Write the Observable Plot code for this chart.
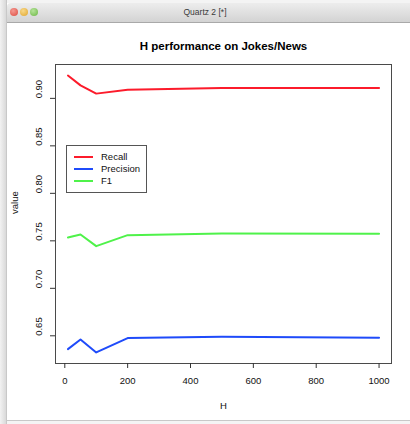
<!DOCTYPE html>
<html>
<head>
<meta charset="utf-8">
<script src="https://cdn.jsdelivr.net/npm/d3@7"></script>
<script src="https://cdn.jsdelivr.net/npm/@observablehq/plot@0.6"></script>
<style>
  html, body { margin: 0; padding: 0; background: #ffffff; }
  #page { position: relative; width: 410px; height: 424px; overflow: hidden; background: #f4f4f4; }
  #shadow { position: absolute; left: 0; top: 0; width: 7px; height: 424px;
    background: linear-gradient(to right, #f2f2f2, #d9d9d9 85%, #b9b9b9); }
  #win { position: absolute; left: 7px; top: 3px; width: 410px; height: 417px; background: #ffffff;
    border-bottom: 1px solid #c8c8c8; }
  #titlebar { position: absolute; left: 7px; top: 3px; width: 410px; height: 19px;
    background: linear-gradient(#ededed, #d3d3d3); border-bottom: 1px solid #a9a9a9;
    border-top-left-radius: 4px; font-family: "Liberation Sans", Arial, sans-serif;
    font-size: 8.5px; color: #3a3a3a; z-index: 3; }
  #titlebar .t { position: absolute; left: 0; width: 396px; top: 4px; text-align: center; }
  .dot { position: absolute; top: 5px; width: 8px; height: 8px; border-radius: 50%; }
  #chart { position: absolute; left: 0; top: 0; z-index: 2; }
  #legend { position: absolute; left: 66px; top: 145px; width: 79px; height: 46px;
    border: 1px solid #555; background: #fff; z-index: 4;
    font-family: "Liberation Sans", Arial, sans-serif; font-size: 9.5px; color: #111; }
  #legend .row { position: absolute; left: 0; height: 12px; }
  #legend .sw { position: absolute; left: 7px; top: 5px; width: 19px; height: 2px; }
  #legend .lb { position: absolute; left: 34px; top: 0; line-height: 12px; white-space: nowrap; }
</style>
</head>
<body>
<div id="page">
  <div id="shadow"></div>
  <div id="win"></div>
  <div id="titlebar">
    <div class="dot" style="left:3px;background:radial-gradient(circle at 40% 35%,#f59a93,#dd4b3f);"></div>
    <div class="dot" style="left:13px;background:radial-gradient(circle at 40% 35%,#f8d98a,#e0a52b);"></div>
    <div class="dot" style="left:23px;background:radial-gradient(circle at 40% 35%,#b5e49a,#6cb644);"></div>
    <div class="t">Quartz 2 [*]</div>
  </div>
  <div id="chart"></div>
  <div id="legend"></div>
</div>
<script>
// H values and the three measured series
const H = [10, 50, 100, 200, 500, 1000];
const recall = [0.924, 0.9137, 0.905, 0.909, 0.911, 0.9108];
const precision = [0.636, 0.6461, 0.6325, 0.6476, 0.649, 0.6479];
const f1 = [0.7536, 0.7567, 0.7444, 0.756, 0.7576, 0.7574];

const seriesNames = ["Recall", "Precision", "F1"];
const seriesColors = ["#fc1b2b", "#1f4bfa", "#4ff24a"];
const xTicks = [0, 200, 400, 600, 800, 1000];
const yTicks = [0.65, 0.70, 0.75, 0.80, 0.85, 0.90];

const titleText = "H performance on Jokes/News";
const xLabel = "H";
const yLabel = "value";

// long-format rows for Plot
const seriesValues = [recall, precision, f1];
const rows = [];
seriesNames.forEach((name, i) => {
  H.forEach((h, j) => rows.push({ H: h, value: seriesValues[i][j], series: name }));
});

// R-style axis ranges: data range padded by 4% on each side
function padded(values) {
  const [lo, hi] = d3.extent(values);
  const pad = (hi - lo) * 0.04;
  return [lo - pad, hi + pad];
}
const xDomain = padded(H);
const yDomain = padded([...recall, ...precision, ...f1]);

const chart = Plot.plot({
  width: 410,
  height: 424,
  marginLeft: 55,
  marginRight: 19,
  marginTop: 64,
  marginBottom: 61,
  style: { fontFamily: "'Liberation Sans', Arial, sans-serif", fontSize: "9.5px", color: "#111", background: "transparent" },
  x: { domain: xDomain },
  y: { domain: yDomain },
  color: { domain: seriesNames, range: seriesColors },
  marks: [
    Plot.frame({ stroke: "#4a4a4a", strokeWidth: 1 }),
    Plot.axisX({ ticks: xTicks, tickSize: 5, tickPadding: 9, label: null, tickFormat: d => String(d), stroke: "#333" }),
    Plot.axisY({ ticks: yTicks, tickSize: 5, label: null, tickFormat: () => "", stroke: "#333" }),
    Plot.text(yTicks, { y: d => d, text: d => d.toFixed(2), frameAnchor: "left", dx: -17, rotate: -90, fill: "#111" }),
    Plot.text([xLabel], { text: d => d, frameAnchor: "bottom", dy: 45, fill: "#111" }),
    Plot.text([yLabel], { text: d => d, frameAnchor: "left", dx: -41, rotate: -90, fill: "#111" }),
    Plot.text([titleText], { text: d => d, frameAnchor: "top", dy: -23, fontWeight: "bold", fontSize: 11.5, fill: "#000" }),
    Plot.line(rows, { x: "H", y: "value", z: "series", stroke: "series", strokeWidth: 2 })
  ]
});
document.getElementById("chart").appendChild(chart);

// legend box
const legend = document.getElementById("legend");
seriesNames.forEach((name, i) => {
  const row = document.createElement("div");
  row.className = "row";
  row.style.top = (5 + i * 12) + "px";
  row.innerHTML = `<div class="sw" style="background:${seriesColors[i]}"></div><div class="lb">${name}</div>`;
  legend.appendChild(row);
});
</script>
</body>
</html>
